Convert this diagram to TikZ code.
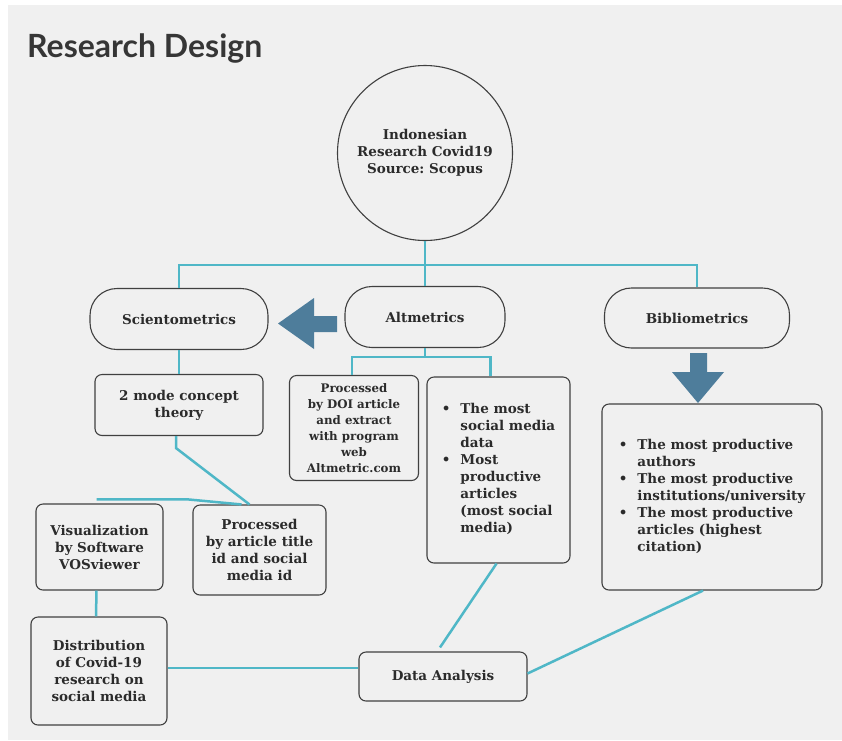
\documentclass[tikz,border=0pt]{standalone}
\usepackage{fontspec}
\setmainfont{DejaVu Serif}
\newfontfamily\headfont{Lato}
\usetikzlibrary{positioning,calc}
\definecolor{canvas}{HTML}{F0F0F0}
\definecolor{wire}{HTML}{4FB7C7}
\definecolor{pointer}{HTML}{4E7D9B}
\definecolor{edge}{HTML}{404040}
\definecolor{ink}{HTML}{2B2B2B}
\tikzset{
  box/.style={draw=edge,line width=1.1pt,rounded corners=7pt,align=center,text=ink,
    font=\bfseries\fontsize{13.5}{17}\selectfont,inner sep=2pt},
  pill/.style={box,rounded corners=27pt,minimum height=61pt},
  smallbox/.style={box,font=\bfseries\fontsize{11.8}{16}\selectfont},
  link/.style={draw=wire,line width=2.5pt},
  pointer/.style={fill=pointer},
}
\frenchspacing
% bullet lists as two-column tables
\newcommand{\bul}{\textbullet}
\newenvironment{bullets}{\begin{tabular}{@{}l@{\hspace{10pt}}l@{}}}{\end{tabular}}

\begin{document}
\begin{tikzpicture}[x=1pt,y=-1pt]
  \useasboundingbox (0,0) rectangle (842,740);
  \fill[white] (0,0) rectangle (842,740);
  \fill[canvas] (8,5) rectangle (842,740);
  \node[anchor=base west,inner sep=0pt,text=ink!95,
    font=\headfont\bfseries\fontsize{32}{36}\selectfont] (title) at (27,57) {Research Design};

  % source and the three branches
  \node[box,circle,minimum size=175pt] (src) at (425,153)
    {Indonesian\\Research Covid19\\Source: Scopus};
  \node[pill,minimum width=178pt] (sci) at (179,319) {Scientometrics};
  \node[pill,minimum width=160pt] (alt) at (425,317) {Altmetrics};
  \node[pill,minimum width=185pt,minimum height=60pt] (bib) at (697,318) {Bibliometrics};

  % altmetrics side
  \node[smallbox,minimum width=129pt,minimum height=105pt] (doi) at (354,428)
    {Processed\\by DOI article\\and extract\\with program\\web\\Altmetric.com};
  \node[box,minimum width=143pt,minimum height=186pt] (smed) at (498.5,470)
    {\begin{bullets}
      \bul & The most\\ & social media\\ & data\\
      \bul & Most\\ & productive\\ & articles\\ & (most social\\ & media)
    \end{bullets}};

  % bibliometrics side
  \node[box,minimum width=220pt,minimum height=186pt] (cite) at (712,497)
    {\begin{bullets}
      \bul & The most productive\\ & authors\\
      \bul & The most productive\\ & institutions/university\\
      \bul & The most productive\\ & articles (highest\\ & citation)
    \end{bullets}};

  % scientometrics side
  \node[box,minimum width=168pt,minimum height=61pt] (mode) at (179,405) {2 mode concept\\theory};
  \node[box,minimum width=133pt,minimum height=90pt] (artid) at (259.5,550)
    {Processed\\by article title\\id and social\\media id};
  \node[box,minimum width=127pt,minimum height=86pt] (vos) at (99.5,547)
    {Visualization\\by Software\\VOSviewer};
  \node[box,minimum width=136pt,minimum height=108pt] (dist) at (99,671)
    {Distribution\\of Covid-19\\research on\\social media};
  \node[box,minimum width=168pt,minimum height=49pt] (ana) at (443,676.5) {Data Analysis};

  % connectors
  \coordinate (hub) at (425,265);
  \coordinate (altsplit) at (425,357);
  \draw[link] (sci.north) |- (hub) -| (bib.north);
  \draw[link] (src.south) -- (alt.north);
  \draw[link] (alt.south) -- (altsplit);
  \draw[link] ([xshift=-2pt]doi.north) |- (altsplit) -| ([xshift=-8pt]smed.north);
  \draw[link] (sci) -- (mode);
  \draw[link] ([xshift=-3pt]mode.south) -- ++(0,12) -- ([xshift=-10pt]artid.north);
  \draw[link] ([xshift=-3pt,yshift=4pt]vos.north) -- ++(92,0) -- ([xshift=-18pt]artid.north);
  \draw[link] ([xshift=-3pt]vos.south) -- ([xshift=-3pt]dist.north);
  \draw[link] ([yshift=3pt]dist.east) -- ([yshift=3pt]dist.east -| ana.west);
  \draw[link] ([xshift=-3pt,yshift=4pt]ana.north) -- ([xshift=-2pt]smed.south);
  \draw[link] ([yshift=3pt]ana.east) -- ([xshift=-9pt]cite.south);

  % block arrows
  \fill[pointer] (337,316) -- (314,316) -- (314,298) -- (278,323.5) -- (314,349) -- (314,332) -- (337,332) -- cycle;
  \fill[pointer] (690,353) -- (690,372) -- (672,372) -- (698,403) -- (724,372) -- (707,372) -- (707,353) -- cycle;
\end{tikzpicture}
\end{document}
